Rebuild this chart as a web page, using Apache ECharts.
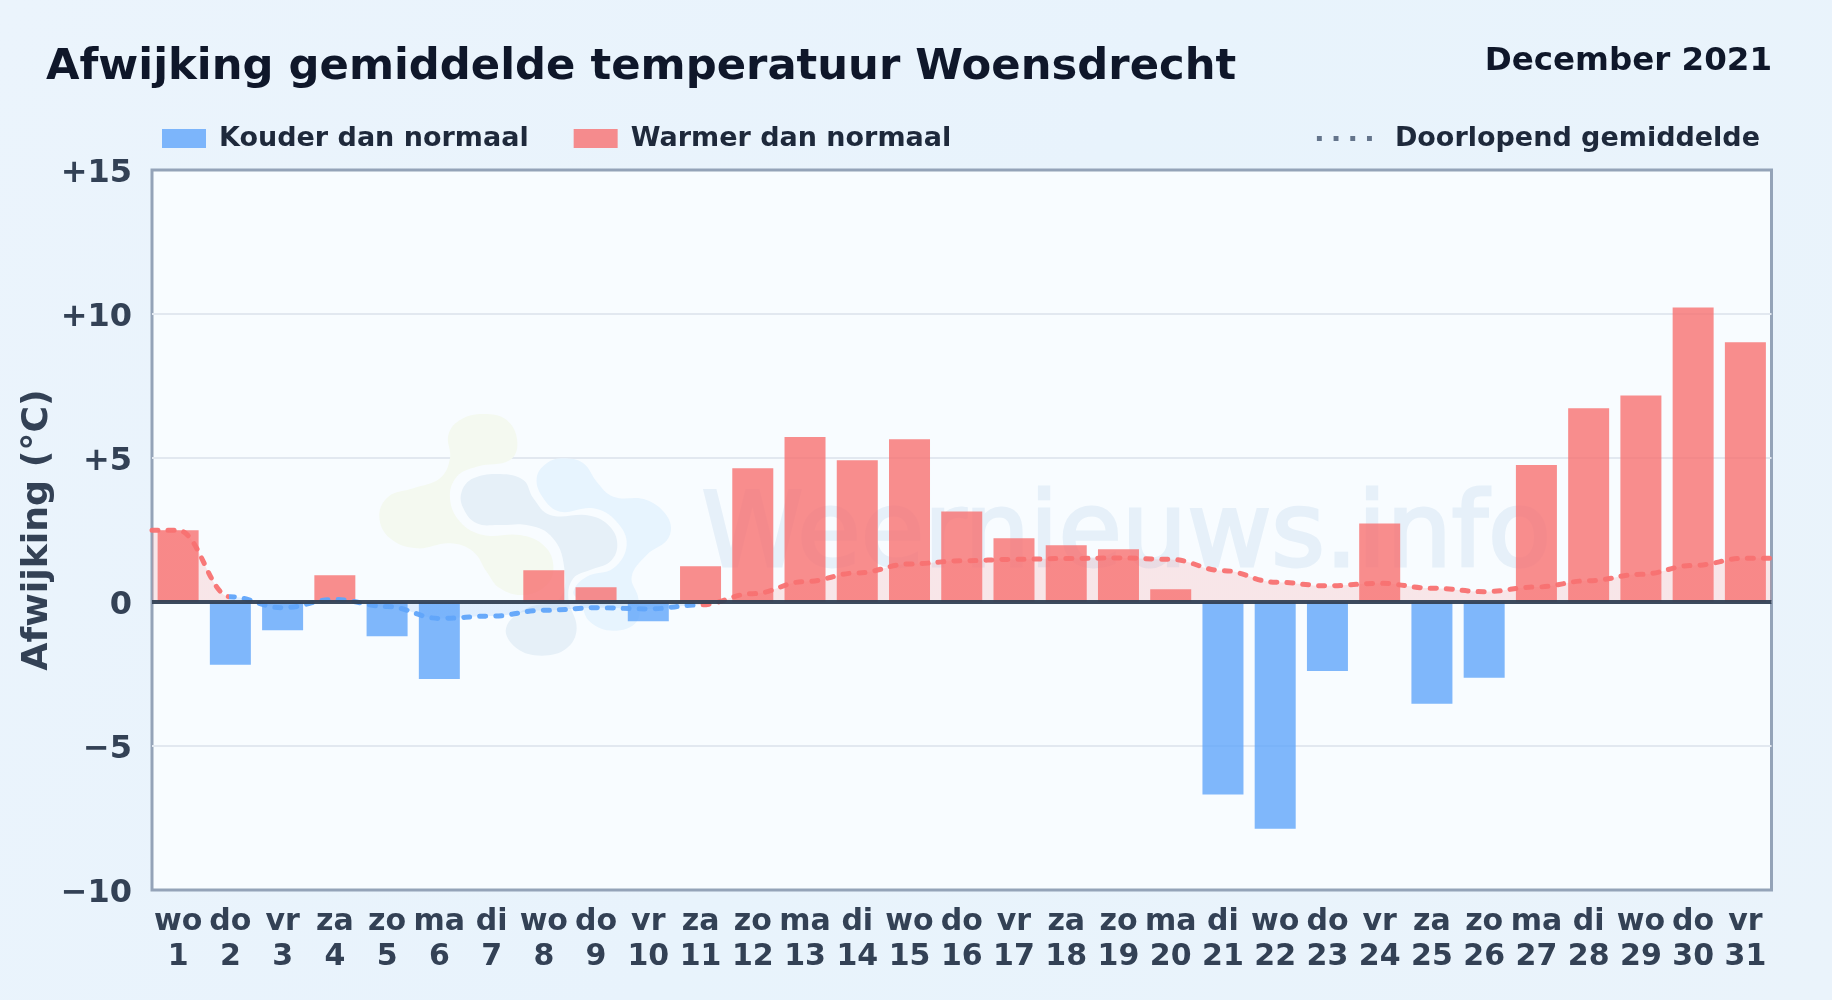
<!DOCTYPE html>
<html><head><meta charset="utf-8">
<style>html,body{margin:0;padding:0;background:#e9f3fc}#c{width:1832px;height:1000px}</style>
<script src="https://cdn.jsdelivr.net/npm/echarts@6/dist/echarts.min.js"></script>
</head><body><div id="c"></div>
<script>
const weekdays = ['wo','do','vr','za','zo','ma','di','wo','do','vr','za','zo','ma','di','wo','do','vr','za','zo','ma','di','wo','do','vr','za','zo','ma','di','wo','do','vr'];
const days = ['1','2','3','4','5','6','7','8','9','10','11','12','13','14','15','16','17','18','19','20','21','22','23','24','25','26','27','28','29','30','31'];
const colderValues = [null,-2.18,-0.98,null,-1.19,-2.67,null,null,null,-0.67,null,null,null,null,null,null,null,null,null,null,-6.68,-7.87,-2.4,null,-3.53,-2.63,null,null,null,null,null];
const warmerValues = [2.49,null,null,0.93,null,null,null,1.1,0.51,null,1.24,4.64,5.73,4.92,5.65,3.14,2.21,1.97,1.83,0.44,null,null,null,2.73,null,null,4.76,6.73,7.17,10.23,9.02];
const runningX = [0.5,1,2,3,4,5,6,7,8,9,10,11,12,13,14,15,16,17,18,19,20,21,22,23,24,25,26,27,28,29,30,31,31.5];
const runningMean = [2.49,2.49,0.18,-0.2,0.09,-0.16,-0.57,-0.49,-0.29,-0.2,-0.24,-0.1,0.29,0.71,1.01,1.32,1.43,1.48,1.51,1.53,1.48,1.09,0.69,0.56,0.65,0.48,0.36,0.52,0.74,0.96,1.27,1.52,1.52];
const yTicks = {'15':'+15','10':'+10','5':'+5','0':'0','-5':'\u22125','-10':'\u221210'};

const FONT = '"DejaVu Sans"';
const RED = '#f87171', BLUE = '#60a5fa';
const chart = echarts.init(document.getElementById('c'), null, {renderer:'canvas'});
const lg = (a,b,c,d,s)=>new echarts.graphic.LinearGradient(a,b,c,d,s);
const z2pts = pts => pts.map(p=>[360+p[0]/3, 395+p[1]/3]);

const option = {
  animation:false,
  backgroundColor: lg(0,0,1,1,[{offset:0,color:'#ebf4fc'},{offset:.5,color:'#e8f3fc'},{offset:1,color:'#eaf3fb'}]),
  title:[
    {text:'Afwijking gemiddelde temperatuur Woensdrecht',left:46,top:46,padding:0,textStyle:{fontFamily:FONT,fontWeight:'bold',fontSize:43.3,color:'#0f172a'}},
    {text:'December 2021',right:60,top:45,padding:0,textStyle:{fontFamily:FONT,fontWeight:'bold',fontSize:32.5,color:'#0f172a'}}
  ],
  legend:[
    {left:162,top:125,padding:0,itemWidth:44,itemHeight:19,itemGap:45,selectedMode:false,
     data:[{name:'Kouder dan normaal',icon:'rect'},{name:'Warmer dan normaal',icon:'rect'}],
     textStyle:{fontFamily:FONT,fontWeight:'bold',fontSize:27,color:'#1e293b',padding:[0,0,0,8]}},
    {right:72,top:125,padding:0,itemWidth:55,itemHeight:5,selectedMode:false,
     data:[{name:'Doorlopend gemiddelde',icon:'path://M0 0h5v5h-5zM17 0h5v5h-5zM34 0h5v5h-5zM51 0h5v5h-5z',itemStyle:{color:'#64748b',opacity:1}}],
     textStyle:{fontFamily:FONT,fontWeight:'bold',fontSize:27,color:'#1e293b',padding:[0,0,0,18]}}
  ],
  grid:{left:152,right:60.5,top:170,bottom:110,show:true,backgroundColor:'#f8fcff',borderColor:'#94a3b8',borderWidth:3},
  xAxis:[
    {type:'category',gridIndex:0,data:weekdays.map((w,i)=>w+'\n'+days[i]),position:'bottom',
     axisLine:{show:false,onZero:false},axisTick:{show:false},splitLine:{show:false},
     axisLabel:{interval:0,margin:15,fontFamily:FONT,fontWeight:'bold',fontSize:30,lineHeight:35,color:'#334155'}},
    {type:'value',gridIndex:0,min:0.5,max:31.5,show:false,position:'top'}
  ],
  yAxis:{type:'value',min:-10,max:15,interval:5,
    name:'Afwijking (\u00b0C)',nameLocation:'middle',nameGap:96,nameRotate:90,nameMoveOverlap:false,
    nameTextStyle:{fontFamily:FONT,fontWeight:'bold',fontSize:36.3,color:'#334155'},
    axisLine:{show:false},axisTick:{show:false},
    splitLine:{showMinLine:false,showMaxLine:false,lineStyle:{color:'#e2e8f0',width:2}},
    axisLabel:{margin:20,fontFamily:FONT,fontWeight:'bold',fontSize:32,color:'#334155',
      formatter:v=>'{t|'+yTicks[String(v)]+'}',
      rich:{t:{fontFamily:FONT,fontWeight:'bold',fontSize:32,color:'#334155',padding:[7,0,0,0]}}}},
  visualMap:{show:false,type:'piecewise',seriesIndex:2,dimension:0,
    pieces:[{lte:1.97,color:RED},{gt:1.97,lte:10.95,color:BLUE},{gt:10.95,color:RED}]},
  graphic:[
    {type:'polygon',z:1,silent:true,shape:{smooth:0.4,points:z2pts([[370,57],[440,75],[472,140],[450,195],[350,215],[290,245],[270,310],[300,380],[370,420],[480,420],[550,450],[580,510],[560,570],[490,600],[420,580],[380,530],[340,470],[270,445],[170,460],[90,430],[58,365],[85,305],[160,280],[240,250],[270,190],[265,120],[300,75]])},style:{fill:'#f4f9f0'}},
    {type:'polygon',z:1,silent:true,shape:{smooth:0.4,points:z2pts([[420,237],[490,255],[520,310],[570,360],[690,362],[750,395],[772,450],[750,500],[690,525],[640,550],[625,610],[650,700],[620,760],[545,782],[470,760],[438,700],[500,640],[600,610],[610,500],[570,420],[500,390],[420,390],[350,385],[310,340],[305,290],[340,250]])},style:{fill:'#e6f0f8'}},
    {type:'polygon',z:1,silent:true,shape:{smooth:0.4,points:z2pts([[610,190],[670,205],[710,260],[760,305],[860,315],[925,370],[925,430],[860,480],[815,545],[835,610],[830,680],[760,707],[690,680],[660,620],[640,590],[680,545],[760,520],[800,450],[770,380],[700,340],[600,350],[550,310],[530,250],[560,205]])},style:{fill:'#e7f4fe'}},
    {type:'text',z:1,silent:true,left:700,top:486,style:{text:'Weernieuws.info',font:'103px "DejaVu Sans"',fill:'#e6f0f9',stroke:'#e6f0f9',lineWidth:3}}
  ],
  series:[
    {name:'Kouder dan normaal',type:'bar',xAxisIndex:0,data:colderValues,barWidth:41,barGap:'-100%',z:2,itemStyle:{color:BLUE,opacity:.8}},
    {name:'Warmer dan normaal',type:'bar',xAxisIndex:0,data:warmerValues,barWidth:41,barGap:'-100%',z:2,itemStyle:{color:RED,opacity:.8},
     markLine:{silent:true,symbol:'none',label:{show:false},animation:false,data:[{yAxis:0}],lineStyle:{color:'#334155',width:4,type:'solid',opacity:.95}}},
    {name:'Doorlopend gemiddelde',type:'line',xAxisIndex:1,z:4,smooth:0.4,smoothMonotone:'x',showSymbol:false,symbol:'none',
     data:runningX.map((x,i)=>[x,runningMean[i]]),
     lineStyle:{width:5,type:[6,10],cap:'round',join:'round',opacity:.95},
     areaStyle:{opacity:.16}}
  ]
};
chart.setOption(option);
</script></body></html>
